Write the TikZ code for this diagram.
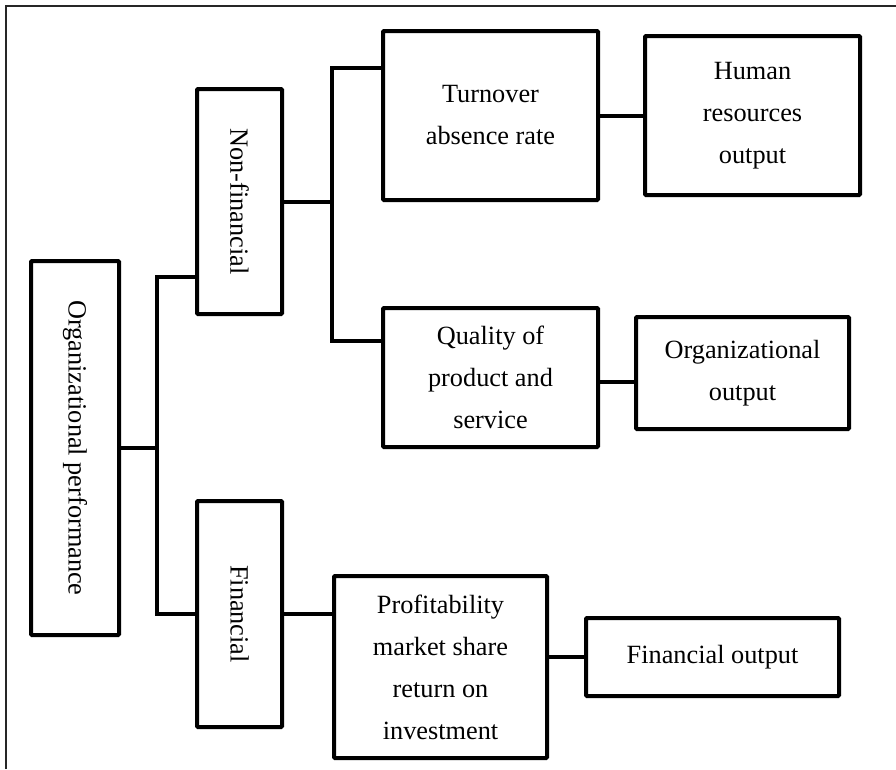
\documentclass[tikz,border=0pt]{standalone}
\usepackage{fontspec}
\setmainfont{Liberation Serif}
\begin{document}
\begin{tikzpicture}[x=1pt,y=-1pt,
  box/.style={draw=black,line width=4pt,rounded corners=1pt,inner sep=0pt,align=center,
    font=\fontsize{26.3}{42}\selectfont},
  conn/.style={draw=black,line width=4pt},
  frame/.style={draw=black!85,line width=1.6pt}]
\useasboundingbox (0,0) rectangle (896,769);
\draw[frame] (6,769) -- (6,6) -- (896,6);
\node[box,minimum width=88pt,minimum height=374pt] (org) at (75,448) {\rotatebox[origin=c]{-90}{Organizational performance}};
\node[box,minimum width=85pt,minimum height=225pt] (nonfin) at (239.5,201.5) {\rotatebox[origin=c]{-90}{Non-financial}};
\node[box,minimum width=85pt,minimum height=226pt] (fin) at (239.5,614) {\rotatebox[origin=c]{-90}{Financial}};
\node[box,minimum width=215pt,minimum height=169pt] (turn) at (490.5,115.5) {Turnover\\absence rate};
\node[box,minimum width=215pt,minimum height=159pt] (hr) at (752.5,115.5) {Human\\resources\\output};
\node[box,minimum width=215pt,minimum height=139pt] (qual) at (490.5,377.5) {Quality of\\product and\\service};
\node[box,minimum width=213pt,minimum height=112pt] (orgout) at (742.5,373) {Organizational\\output};
\node[box,minimum width=213pt,minimum height=182pt] (prof) at (440.5,667) {Profitability\\market share\\return on\\investment};
\node[box,minimum width=253pt,minimum height=78pt] (finout) at (712.5,657) {Financial output};
\coordinate (ta) at (157,277);
\coordinate (tb) at (157,614);
\coordinate (j1) at (332,68);
\coordinate (j2) at (332,341);
\draw[conn] (org.east) -- (org.east -| ta);
\draw[conn] (nonfin.west |- ta) -- (ta) -- (tb) -- (fin.west);
\draw[conn] (fin.east) -- (fin.east -| prof.west);
\draw[conn] (nonfin.east) -- (nonfin.east -| j1);
\draw[conn] (turn.west |- j1) -- (j1) -- (j2) -- (qual.west |- j2);
\draw[conn] (turn.east) -- (hr.west);
\draw[conn] (qual.east |- 0,382) -- (orgout.west |- 0,382);
\draw[conn] (prof.east |- finout.west) -- (finout.west);
\end{tikzpicture}
\end{document}
